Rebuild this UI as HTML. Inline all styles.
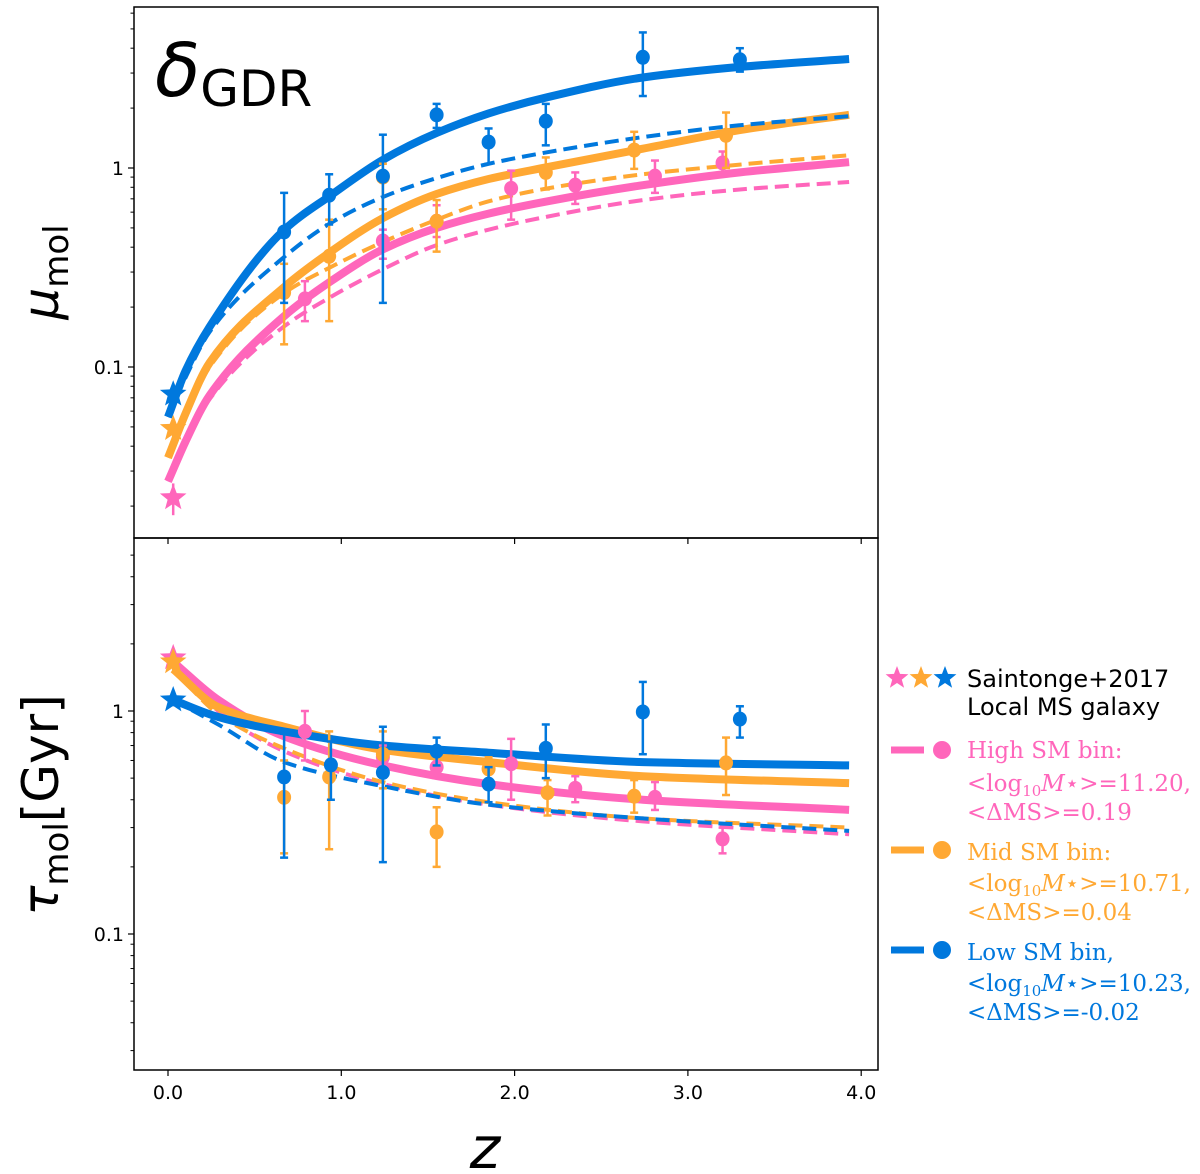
<!DOCTYPE html>
<html><head><meta charset="utf-8">
<style>
body{margin:0;background:#fff;}
svg{display:block;font-family:"DejaVu Sans","Liberation Sans",sans-serif;}
</style></head>
<body>
<svg id="chart" width="1200" height="1174" viewBox="0 0 1200 1174" xmlns="http://www.w3.org/2000/svg">
<rect x="0" y="0" width="1200" height="1174" fill="#fff"/>
<g id="plot"></g>
<text x="155" y="96" font-size="74" font-style="italic" font-family="DejaVu Sans, sans-serif">δ<tspan font-style="normal" font-size="50" dy="10">GDR</tspan></text>
<text transform="translate(58,272) rotate(-90)" text-anchor="middle" font-size="50" font-style="italic">μ<tspan font-style="normal" font-size="34" dy="10">mol</tspan></text>
<text transform="translate(58,805) rotate(-90)" text-anchor="middle" font-size="50"><tspan font-style="italic">τ</tspan><tspan font-size="34" dy="10">mol</tspan><tspan dy="-10">[Gyr]</tspan></text>
<text x="485" y="1168" text-anchor="middle" font-size="58" font-style="italic">z</text>
<g font-size="24">
  <text x="967" y="687" fill="#000">Saintonge+2017</text>
  <text x="967" y="715" fill="#000">Local MS galaxy</text>
  <g font-family="DejaVu Serif, Liberation Serif, serif" font-size="23">
  <text x="967" y="758" fill="#ff66bb">High SM bin:</text>
  <text x="967" y="791" fill="#ff66bb">&lt;log<tspan font-size="15" dy="5">10</tspan><tspan dy="-5" font-style="italic">M</tspan>⋆&gt;=11.20,</text>
  <text x="967" y="820" fill="#ff66bb">&lt;ΔMS&gt;=0.19</text>
  <text x="967" y="860" fill="#ffa833">Mid SM bin:</text>
  <text x="967" y="891" fill="#ffa833">&lt;log<tspan font-size="15" dy="5">10</tspan><tspan dy="-5" font-style="italic">M</tspan>⋆&gt;=10.71,</text>
  <text x="967" y="920" fill="#ffa833">&lt;ΔMS&gt;=0.04</text>
  <text x="967" y="960" fill="#0078dd">Low SM bin,</text>
  <text x="967" y="991" fill="#0078dd">&lt;log<tspan font-size="15" dy="5">10</tspan><tspan dy="-5" font-style="italic">M</tspan>⋆&gt;=10.23,</text>
  <text x="967" y="1020" fill="#0078dd">&lt;ΔMS&gt;=-0.02</text>
  </g>
  <line x1="891" y1="750" x2="924" y2="750" stroke="#ff66bb" stroke-width="7"/>
  <circle cx="942" cy="750" r="9" fill="#ff66bb"/>
  <line x1="891" y1="850" x2="924" y2="850" stroke="#ffa833" stroke-width="7"/>
  <circle cx="942" cy="850" r="9" fill="#ffa833"/>
  <line x1="891" y1="950" x2="924" y2="950" stroke="#0078dd" stroke-width="7"/>
  <circle cx="942" cy="950" r="9" fill="#0078dd"/>
  <g id="legstars"></g>
</g>
</svg>
<script>
const COLORS = {high:"#ff66bb", mid:"#ffa833", low:"#0078dd"};
// x axis
const xTicks = [0,1,2,3,4];
const xTickLabels = ["0.0","1.0","2.0","3.0","4.0"];
// top panel: mu_mol
const topYTicks = [0.1,1];
const topYTickLabels = ["0.1","1"];
const curveZTop = [0.0,0.1,0.24,0.67,0.94,1.24,1.55,1.85,2.19,2.74,3.3,3.93];
const topLowSolid  = [0.056,0.095,0.159,0.488,0.73,1.10,1.5,1.88,2.27,2.85,3.22,3.53];
const topLowDash   = [0.056,0.088,0.15,0.357,0.53,0.715,0.89,1.05,1.2,1.43,1.64,1.82];
const topMidSolid  = [0.035,0.058,0.105,0.252,0.38,0.56,0.74,0.88,1.01,1.25,1.55,1.85];
const topMidDash   = [0.035,0.056,0.1,0.235,0.318,0.425,0.55,0.68,0.79,0.93,1.04,1.16];
const topHighSolid = [0.0266,0.042,0.072,0.18,0.27,0.39,0.50,0.59,0.68,0.82,0.95,1.07];
const topHighDash  = [0.0266,0.041,0.069,0.16,0.225,0.31,0.41,0.49,0.57,0.69,0.78,0.85];
const topLowZ   = [0.67,0.93,1.24,1.55,1.85,2.18,2.74,3.30];
const topLowV   = [0.477,0.73,0.91,1.85,1.35,1.72,3.6,3.5];
const topLowLo  = [0.21,0.52,0.21,1.59,1.05,1.30,2.3,3.05];
const topLowHi  = [0.75,0.93,1.47,2.1,1.58,2.1,4.8,4.0];
const topMidZ   = [0.67,0.93,1.24,1.55,2.18,2.69,3.22];
const topMidV   = [0.237,0.36,0.9,0.54,0.95,1.23,1.46];
const topMidLo  = [0.13,0.17,0.62,0.38,0.78,0.99,1.0];
const topMidHi  = [0.33,0.55,1.05,0.69,1.13,1.52,1.9];
const topHighZ  = [0.79,1.24,1.55,1.98,2.35,2.81,3.20];
const topHighV  = [0.22,0.43,0.54,0.79,0.82,0.91,1.06];
const topHighLo = [0.17,0.35,0.45,0.55,0.66,0.75,0.92];
const topHighHi = [0.27,0.49,0.65,0.97,0.95,1.09,1.21];
const topStarZ = [0.03,0.03,0.03];
const topStarV = [0.022,0.049,0.073];
const topStarLo = [0.018,0.044,0.066];
const topStarHi = [0.026,0.054,0.08];
// bottom panel: tau_mol
const botYTicks = [0.1,1];
const botYTickLabels = ["0.1","1"];
const curveZBot = [0.03,0.29,0.67,1.24,1.85,2.74,3.93];
const botLowSolid  = [1.12,0.94,0.81,0.70,0.65,0.59,0.57];
const botLowDash   = [1.12,0.87,0.59,0.46,0.38,0.33,0.29];
const botMidSolid  = [1.54,1.04,0.85,0.67,0.59,0.51,0.475];
const botMidDash   = [1.54,0.97,0.68,0.48,0.39,0.33,0.30];
const botHighSolid = [1.66,1.12,0.77,0.57,0.47,0.40,0.36];
const botHighDash  = [1.66,1.0,0.66,0.47,0.38,0.32,0.28];
const botLowZ   = [0.67,0.94,1.24,1.55,1.85,2.18,2.74,3.30];
const botLowV   = [0.506,0.573,0.53,0.66,0.47,0.68,0.99,0.92];
const botLowLo  = [0.22,0.40,0.21,0.57,0.39,0.50,0.64,0.76];
const botLowHi  = [0.79,0.73,0.85,0.76,0.56,0.87,1.35,1.05];
const botMidZ   = [0.67,0.93,1.24,1.55,1.85,2.19,2.69,3.22];
const botMidV   = [0.41,0.506,0.64,0.287,0.55,0.43,0.415,0.585];
const botMidLo  = [0.23,0.24,0.45,0.20,0.48,0.34,0.35,0.42];
const botMidHi  = [0.60,0.81,0.81,0.37,0.62,0.49,0.49,0.76];
const botHighZ  = [0.79,1.24,1.55,1.98,2.35,2.81,3.20];
const botHighV  = [0.81,0.62,0.56,0.58,0.45,0.41,0.267];
const botHighLo = [0.60,0.55,0.50,0.40,0.39,0.36,0.23];
const botHighHi = [1.0,0.70,0.63,0.75,0.51,0.48,0.30];
const botStarZ = [0.03,0.03,0.03];
const botStarV = [1.73,1.66,1.12];
const botStarLo = [1.6,1.5,1.05];
const botStarHi = [1.85,1.8,1.2];

const NS="http://www.w3.org/2000/svg";
const plot=document.getElementById('plot');
const X0=134, X1=878;
function xs(z){return 168 + z*173.3;}
const pTop={t:7,b:538,y1:168,dec:199};
const pBot={t:538,b:1070,y1:711,dec:223};
function ys(p,v){return p.y1 - Math.log10(v)*p.dec;}
function mk(tag,attrs,parent){const e=document.createElementNS(NS,tag);for(const k in attrs)e.setAttribute(k,attrs[k]);(parent||plot).appendChild(e);return e;}

function monoPath(pts){
  const n=pts.length;const dx=[],m=[],t=new Array(n);
  for(let i=0;i<n-1;i++){dx[i]=pts[i+1][0]-pts[i][0];m[i]=(pts[i+1][1]-pts[i][1])/dx[i];}
  t[0]=m[0];t[n-1]=m[n-2];
  for(let i=1;i<n-1;i++){
    if(m[i-1]*m[i]<=0)t[i]=0;
    else{const w1=2*dx[i]+dx[i-1],w2=dx[i]+2*dx[i-1];t[i]=(w1+w2)/(w1/m[i-1]+w2/m[i]);}
  }
  let d="M"+pts[0][0].toFixed(1)+","+pts[0][1].toFixed(1);
  for(let i=0;i<n-1;i++){
    const h=dx[i]/3;
    d+="C"+(pts[i][0]+h).toFixed(1)+","+(pts[i][1]+t[i]*h).toFixed(1)+" "+(pts[i+1][0]-h).toFixed(1)+","+(pts[i+1][1]-t[i+1]*h).toFixed(1)+" "+pts[i+1][0].toFixed(1)+","+pts[i+1][1].toFixed(1);
  }
  return d;
}
function curve(p,zs,vals,color,dashed,name){
  const pts=zs.map((z,i)=>[xs(z),ys(p,vals[i])]);
  const e=mk('path',{d:monoPath(pts),fill:'none',stroke:color,'stroke-width':dashed?4:8,'stroke-dasharray':dashed?'14,7':'none'});
  
  
}
function points(p,zs,vs,lo,hi,color,name){
  zs.forEach((z,i)=>{
    const g=mk('g',{});
    
    
    const x=xs(z);
    mk('line',{x1:x,x2:x,y1:ys(p,lo[i]),y2:ys(p,hi[i]),stroke:color,'stroke-width':2.5},g);
    mk('line',{x1:x-4,x2:x+4,y1:ys(p,lo[i]),y2:ys(p,lo[i]),stroke:color,'stroke-width':2.5},g);
    mk('line',{x1:x-4,x2:x+4,y1:ys(p,hi[i]),y2:ys(p,hi[i]),stroke:color,'stroke-width':2.5},g);
    mk('ellipse',{cx:x,cy:ys(p,vs[i]),rx:7,ry:7.5,fill:color},g);
  });
}
function starPath(cx,cy,r){
  let d="";
  for(let k=0;k<10;k++){const a=-Math.PI/2+k*Math.PI/5;const rr=k%2?r*0.42:r;d+=(k?"L":"M")+(cx+rr*Math.cos(a)).toFixed(1)+","+(cy+rr*Math.sin(a)).toFixed(1);}
  return d+"Z";
}
function stars(p,zs,vs,lo,hi,name){
  const cols=[COLORS.high,COLORS.mid,COLORS.low];
  zs.forEach((z,i)=>{
    const g=mk('g',{});
    
    
    const x=xs(z);
    mk('line',{x1:x,x2:x,y1:ys(p,lo[i]),y2:ys(p,hi[i]),stroke:cols[i],'stroke-width':2.5},g);
    mk('path',{d:starPath(x,ys(p,vs[i]),14),fill:cols[i]},g);
  });
}
function axes(p,yt,ytl,pname,showX){
  const r=mk('rect',{x:X0,y:p.t,width:X1-X0,height:p.b-p.t,fill:'none',stroke:'#000','stroke-width':1.5});
  
  
  xTicks.forEach((t,i)=>{
    mk('line',{x1:xs(t),x2:xs(t),y1:p.b,y2:p.b+6,stroke:'#000','stroke-width':1.2});
    if(showX){const tx=mk('text',{x:xs(t),y:p.b+29,'text-anchor':'middle','font-size':19});tx.textContent=xTickLabels[i];
      
      }
  });
  yt.forEach((t,i)=>{
    const y=ys(p,t);
    mk('line',{x1:X0-6,x2:X0,y1:y,y2:y,stroke:'#000','stroke-width':1.2});
    const tx=mk('text',{x:X0-10,y:y+7,'text-anchor':'end','font-size':19});tx.textContent=ytl[i];
    
    
  });
  for(let dec=-2;dec<=1;dec++)for(let m=2;m<=9;m++){
    const v=m*Math.pow(10,dec);const y=ys(p,v);
    if(y>p.t&&y<p.b)mk('line',{x1:X0-3.5,x2:X0,y1:y,y2:y,stroke:'#000','stroke-width':1});
  }
}
function panel(p,pre,d,showX){
  axes(p,d.yt,d.ytl,pre,showX);
  curve(p,d.cz,d.hs,COLORS.high,false,pre+'-high-fit');
  curve(p,d.cz,d.hd,COLORS.high,true,pre+'-high-fit-dashed');
  curve(p,d.cz,d.ms,COLORS.mid,false,pre+'-mid-fit');
  curve(p,d.cz,d.md,COLORS.mid,true,pre+'-mid-fit-dashed');
  curve(p,d.cz,d.ls,COLORS.low,false,pre+'-low-fit');
  curve(p,d.cz,d.ld,COLORS.low,true,pre+'-low-fit-dashed');
  points(p,d.hz,d.hv,d.hlo,d.hhi,COLORS.high,pre+'-high');
  points(p,d.mz,d.mv,d.mlo,d.mhi,COLORS.mid,pre+'-mid');
  points(p,d.lz,d.lv,d.llo,d.lhi,COLORS.low,pre+'-low');
  stars(p,d.sz,d.sv,d.slo,d.shi,pre);
}
panel(pTop,'top',{yt:topYTicks,ytl:topYTickLabels,cz:curveZTop,hs:topHighSolid,hd:topHighDash,ms:topMidSolid,md:topMidDash,ls:topLowSolid,ld:topLowDash,
  hz:topHighZ,hv:topHighV,hlo:topHighLo,hhi:topHighHi,mz:topMidZ,mv:topMidV,mlo:topMidLo,mhi:topMidHi,lz:topLowZ,lv:topLowV,llo:topLowLo,lhi:topLowHi,
  sz:topStarZ,sv:topStarV,slo:topStarLo,shi:topStarHi},false);
panel(pBot,'bottom',{yt:botYTicks,ytl:botYTickLabels,cz:curveZBot,hs:botHighSolid,hd:botHighDash,ms:botMidSolid,md:botMidDash,ls:botLowSolid,ld:botLowDash,
  hz:botHighZ,hv:botHighV,hlo:botHighLo,hhi:botHighHi,mz:botMidZ,mv:botMidV,mlo:botMidLo,mhi:botMidHi,lz:botLowZ,lv:botLowV,llo:botLowLo,lhi:botLowHi,
  sz:botStarZ,sv:botStarV,slo:botStarLo,shi:botStarHi},true);
const ls=document.getElementById('legstars');
[[COLORS.high,897],[COLORS.mid,921],[COLORS.low,945]].forEach((c,i)=>{
  const s=mk('path',{d:starPath(c[1],678,12),fill:c[0]},ls);
  
  
});
</script>
</body></html>
